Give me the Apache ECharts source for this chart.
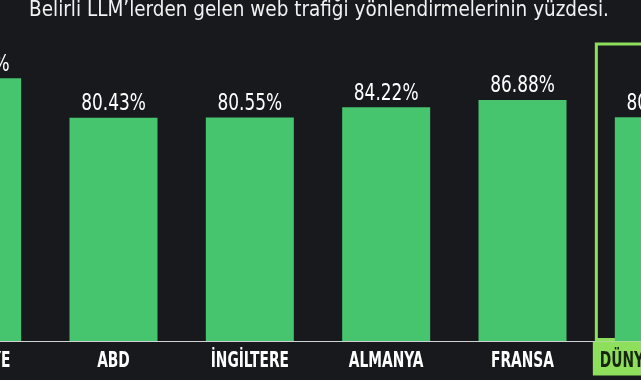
<!DOCTYPE html>
<html><head><meta charset="utf-8">
<script src="https://cdn.jsdelivr.net/npm/echarts@6/dist/echarts.min.js"></script>
<style>
html,body{margin:0;padding:0;background:#18191d;overflow:hidden;width:641px;height:380px;position:relative;}
#c{position:absolute;left:-91px;top:0;width:818px;height:380px;}
</style>
</head><body><div id="c"></div>
<script>
const titleText = "Belirli LLM’lerden gelen web trafiği yönlendirmelerinin yüzdesi.";
const categories = ["TÜRKİYE", "ABD", "İNGİLTERE", "ALMANYA", "FRANSA", "DÜNYA"];
const values = [94.69, 80.43, 80.55, 84.22, 86.88, 80.63];
const highlightCategory = "DÜNYA";
const highlightValue = 107.6;

const FONT = "'DejaVu Sans Condensed', 'DejaVu Sans', sans-serif";
const BG = '#18191d', BAR = '#46c56e', HL = '#8ee05c';
const chart = echarts.init(document.getElementById('c'), null, {renderer: 'canvas'});
const highlightData = categories.map(c => c === highlightCategory ? highlightValue : null);
const labelData = values.map((v, i) => [i, v]);

chart.setOption({
  backgroundColor: BG,
  animation: false,
  graphic: [{
    type: 'text', x: 410, y: -1, scaleX: 0.93, silent: true,
    style: {text: titleText, fill: '#f2f2f2', font: "normal 22px " + FONT, textAlign: 'center', textVerticalAlign: 'top'}
  }],
  grid: {left: 0, right: 0, top: 8, bottom: 39, containLabel: false},
  xAxis: [{
    type: 'category', data: categories,
    axisLine: {lineStyle: {color: '#cfd3d6', width: 1}},
    axisTick: {show: false},
    axisLabel: {show: false}
  }, {
    type: 'category', data: categories, show: false, position: 'bottom'
  }],
  yAxis: {type: 'value', min: 0, max: 120, show: false, splitLine: {show: false}},
  series: [{
    type: 'bar', xAxisIndex: 1, data: highlightData, barWidth: 128, silent: true, z: 1,
    itemStyle: {color: 'rgba(0,0,0,0)', borderColor: HL, borderWidth: 3}
  }, {
    type: 'bar', xAxisIndex: 0, data: values, barWidth: 88, z: 3,
    itemStyle: {color: BAR}
  }, {
    type: 'custom', xAxisIndex: 0, data: labelData, clip: false, z: 5, silent: true,
    renderItem: function (params, api) {
      const idx = api.value(0), val = api.value(1);
      const top = api.coord([idx, val]);
      const base = api.coord([idx, 0]);
      const band = api.size([1, 0])[0];
      const name = categories[idx];
      const isHL = name === highlightCategory;
      const children = [];
      const w = band * 0.968;
      if (isHL) {
        children.push({type: 'rect', shape: {x: base[0] - w / 2, y: base[1] + 0.5, width: w, height: 34},
          style: {fill: HL}});
      }
      children.push({type: 'text', x: top[0], y: top[1] - 2, scaleX: 0.82,
        style: {text: val.toFixed(2) + '%', fill: '#ffffff', font: "normal 23px " + FONT,
          textAlign: 'center', textVerticalAlign: 'bottom'}});
      children.push({type: 'text', x: isHL ? base[0] - w / 2 + 7 : base[0], y: base[1] + 21, scaleX: 0.73,
        style: {text: name, fill: isHL ? '#17240f' : '#ffffff', font: "bold 21px " + FONT,
          textAlign: isHL ? 'left' : 'center', textVerticalAlign: 'middle'}});
      return {type: 'group', children: children};
    }
  }]
});
</script></body></html>
